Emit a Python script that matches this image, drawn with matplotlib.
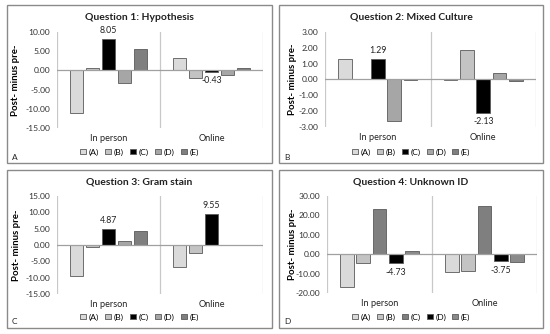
import matplotlib
matplotlib.use("Agg")
import matplotlib.pyplot as plt
from matplotlib.patches import Rectangle, Patch
import numpy as np

plt.rcParams['font.family'] = ['Lato', 'DejaVu Sans']
plt.rcParams['axes.unicode_minus'] = False

categories = ["In person", "Online"]
series = ["(A)", "(B)", "(C)", "(D)", "(E)"]

titles = ["Question 1: Hypothesis", "Question 2: Mixed Culture",
          "Question 3: Gram stain", "Question 4: Unknown ID"]
letters = ["A", "B", "C", "D"]

# values[series][category]
q1_values = [[-11.2, 3.1], [0.5, -2.1], [8.05, -0.43], [-3.3, -1.1], [5.6, 0.5]]
q2_values = [[1.3, -0.03], [0.0, 1.87], [1.29, -2.13], [-2.65, 0.4], [-0.05, -0.12]]
q3_values = [[-9.6, -6.8], [-0.6, -2.6], [4.87, 9.55], [1.1, 0.1], [4.2, 0.05]]
q4_values = [[-17.0, -9.3], [-4.4, -8.8], [23.4, 24.9], [-4.73, -3.75], [1.9, -3.9]]

y_ticks = [np.arange(-15, 10.01, 5), np.arange(-3, 3.01, 1),
           np.arange(-15, 15.01, 5), np.arange(-20, 30.01, 10)]
labeled_series = [2, 2, 2, 3]

colors_std = ["#dadada", "#c3c3c3", "#000000", "#a6a6a6", "#7f7f7f"]
colors_q4 = ["#dadada", "#c3c3c3", "#7f7f7f", "#000000", "#8a8a8a"]

all_values = [q1_values, q2_values, q3_values, q4_values]
all_colors = [colors_std, colors_std, colors_std, colors_q4]

W, H = 550, 334
fig = plt.figure(figsize=(W / 100, H / 100), dpi=100)

# panel boxes (px): left, top, right, bottom
panels = [(7, 5, 272, 163), (279, 5, 543, 163), (7, 170, 272, 328), (279, 170, 543, 328)]
# plot areas (px)
plots = [(57, 32, 263, 128), (325, 32, 536, 127), (57, 196, 263, 294), (327, 196, 537, 293)]
ylabel_px = [20, 297, 21, 297]

def fx(px):
    return px / W

def fy(py):
    return 1 - py / H

for k in range(4):
    pl, pt, pr, pb = panels[k]
    fig.patches.append(Rectangle((fx(pl), fy(pb)), fx(pr - pl), (pb - pt) / H,
                                 transform=fig.transFigure, fill=False,
                                 edgecolor="#8a8a8a", linewidth=1.0, zorder=0))
    l, t, r, b = plots[k]
    ax = fig.add_axes([fx(l), fy(b), fx(r - l), (b - t) / H])
    vals = all_values[k]
    cols = all_colors[k]
    x = np.arange(len(categories))
    n = len(series)
    step = 0.155
    width = 0.13
    containers = []
    for i in range(n):
        bars = ax.bar(x + (i - (n - 1) / 2) * step, vals[i], width=width,
                      color=cols[i], edgecolor="#5a5a5a", linewidth=0.6, zorder=3,
                      label=series[i])
        containers.append(bars)
    ticks = y_ticks[k]
    ax.set_ylim(ticks[0], ticks[-1])
    ax.set_yticks(ticks)
    ax.set_yticklabels([f"{v:.2f}" for v in ticks], fontsize=6.1, color="#333333")
    ax.set_xlim(-0.5, 1.5)
    ax.set_xticks(x)
    ax.set_xticklabels(categories, fontsize=6.6, color="#222222")
    ax.tick_params(axis='both', length=0)
    ax.tick_params(axis='x', pad=4)
    ax.tick_params(axis='y', pad=5)
    for s in ax.spines.values():
        s.set_visible(False)
    for gx in [-0.5, 0.5, 1.5]:
        ax.axvline(gx, color="#c8c8c8", linewidth=0.9, zorder=1)
    ax.axhline(0, color="#a0a0a0", linewidth=0.9, zorder=4)
    ax.set_ylabel("Post- minus pre-", fontsize=6.9, fontweight='bold')
    ax.yaxis.set_label_coords((ylabel_px[k] - l) / (r - l), 0.5)
    # data labels
    si = labeled_series[k]
    for j, rect in enumerate(containers[si]):
        v = vals[si][j]
        cx = rect.get_x() + rect.get_width() / 2
        ax.annotate(f"{v:.2f}", xy=(cx, v), xytext=(0, 3 if v >= 0 else -3),
                    textcoords='offset points', ha='center',
                    va='bottom' if v >= 0 else 'top', fontsize=6.3, color="#222222")
    # title
    fig.text(fx((pl + pr) / 2), fy(pt + 12), titles[k], ha='center', va='center',
             fontsize=7.5, fontweight='bold', color="#222222")
    # legend
    handles = [Patch(facecolor=cols[i], edgecolor="#5a5a5a", linewidth=0.6) for i in range(n)]
    fig.legend(handles, series, loc='center', bbox_to_anchor=(fx((pl + pr) / 2), fy(pb - 11)),
               ncol=5, frameon=False, fontsize=6.1, handlelength=0.7, handleheight=0.7,
               handletextpad=0.3, columnspacing=0.75, borderpad=0)
    # letter
    fig.text(fx(pl + 5), fy(pb - 6), letters[k], ha='left', va='center', fontsize=6.0,
             color="#222222")

fig.savefig("out.png", dpi=100)
